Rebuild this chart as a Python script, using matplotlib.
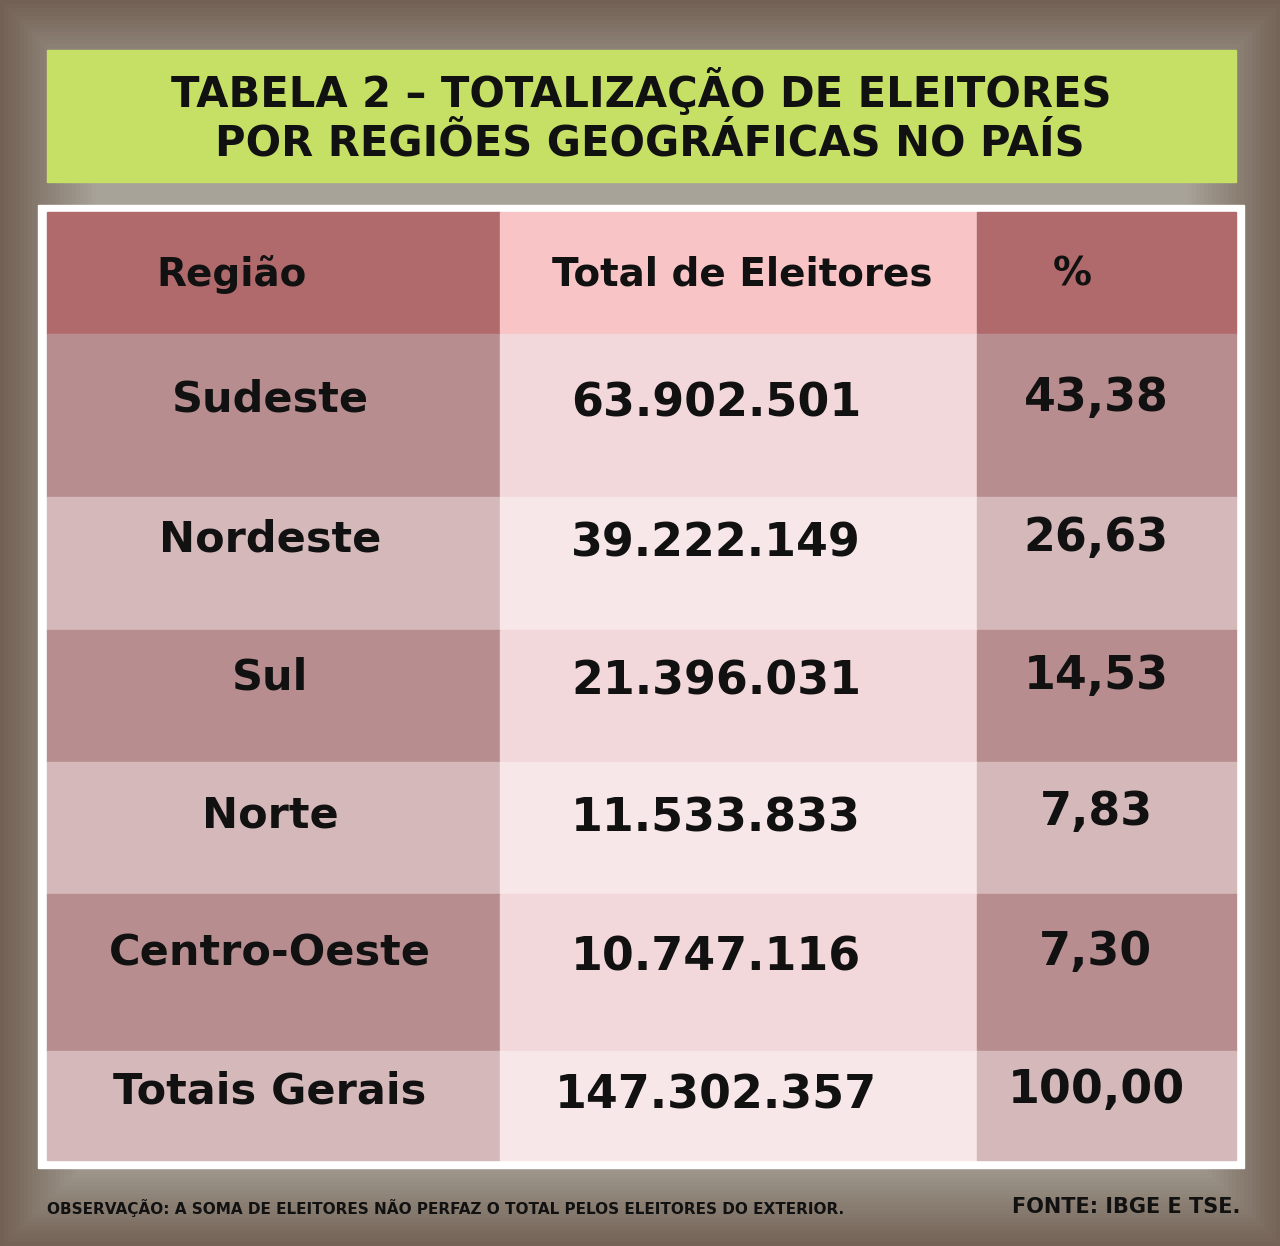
import numpy as np
import matplotlib
matplotlib.use("Agg")
import matplotlib.pyplot as plt
from matplotlib.patches import Rectangle

title_lines = ["TABELA 2 – TOTALIZAÇÃO DE ELEITORES", "POR REGIÕES GEOGRÁFICAS NO PAÍS"]
headers = ["Região", "Total de Eleitores", "%"]
regions = ["Sudeste", "Nordeste", "Sul", "Norte", "Centro-Oeste", "Totais Gerais"]
voters = ["63.902.501", "39.222.149", "21.396.031", "11.533.833", "10.747.116", "147.302.357"]
percents = ["43,38", "26,63", "14,53", "7,83", "7,30", "100,00"]
note = "OBSERVAÇÃO: A SOMA DE ELEITORES NÃO PERFAZ O TOTAL PELOS ELEITORES DO EXTERIOR."
source = "FONTE: IBGE E TSE."

W, H = 1280, 1246
fig = plt.figure(figsize=(12.8, 12.46), dpi=100)
ax = fig.add_axes([0, 0, 1, 1])
ax.set_xlim(0, W); ax.set_ylim(H, 0); ax.axis("off")

yy, xx = np.mgrid[0:H:4, 0:W:4]
d = np.maximum(np.abs(xx - W/2)/(W/2), np.abs(yy - H/2)/(H/2))
t = np.clip((d - 0.85)/0.15, 0, 1)[..., None]
inner = np.array([0.66, 0.64, 0.60]); outer = np.array([0.45, 0.38, 0.33])
img = inner*(1-t) + outer*t
ax.imshow(img, extent=[0, W, H, 0], zorder=0)

fb = "DejaVu Sans"
ax.add_patch(Rectangle((47, 50), 1189, 132, color="#c6e065", zorder=1))
ax.text(641, 92, title_lines[0], ha="center", va="center", fontsize=30, weight="bold", family=fb, color="#111", zorder=3)
ax.text(650, 143, title_lines[1], ha="center", va="center", fontsize=30, weight="bold", family=fb, color="#111", zorder=3)

ax.add_patch(Rectangle((38, 205), 1206, 963, color="white", zorder=1))

xs = [47, 500, 977, 1236]
ys = [212, 334, 497, 630, 762, 894, 1051, 1160]
hdr = ["#b06a6b", "#f8c4c6", "#b06a6b"]
odd = ["#b88d8f", "#f2d8da", "#b88d8f"]
even = ["#d5b8ba", "#f8e7e8", "#d5b8ba"]
for r in range(len(ys)-1):
    cols = hdr if r == 0 else (odd if r % 2 == 1 else even)
    for c in range(3):
        ax.add_patch(Rectangle((xs[c], ys[r]), xs[c+1]-xs[c], ys[r+1]-ys[r], color=cols[c], zorder=2))

hx = [232, 742, 1072]
for x, h in zip(hx, headers):
    ax.text(x, 275, h, ha="center", va="center", fontsize=28, weight="bold", family=fb, color="#111", zorder=3)

ty = [400, 540, 678, 815, 954, 1092]
for i in range(len(regions)):
    ax.text(270, ty[i], regions[i], ha="center", va="center", fontsize=31, weight="bold", family=fb, color="#111", zorder=3)
    ax.text(716, ty[i]+4, voters[i], ha="center", va="center", fontsize=33, weight="bold", family=fb, color="#111", zorder=3)
    ax.text(1096, ty[i]-2, percents[i], ha="center", va="center", fontsize=33, weight="bold", family=fb, color="#111", zorder=3)

ax.text(47, 1208, note, ha="left", va="center", fontsize=11, weight="bold", family=fb, color="#111", zorder=3)
ax.text(1240, 1207, source, ha="right", va="center", fontsize=15, weight="bold", family=fb, color="#111", zorder=3)

fig.savefig("out.png", dpi=100)
